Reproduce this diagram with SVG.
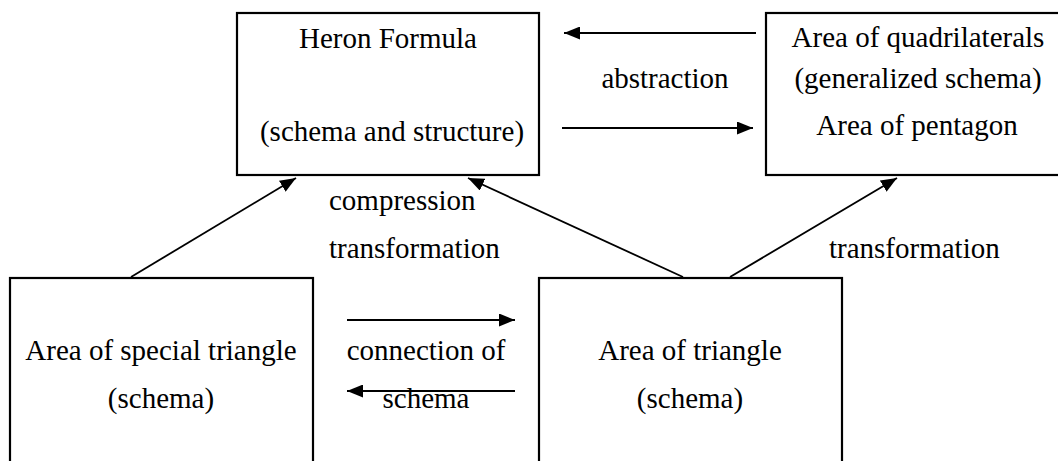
<svg xmlns="http://www.w3.org/2000/svg" width="1058" height="461" viewBox="0 0 1058 461">
<style>
.box{fill:#fff;stroke:#000;stroke-width:2.2}
.t{font-family:"Liberation Serif","Times New Roman",serif;font-size:29px;fill:#000}
.m{text-anchor:middle}
.c{stroke:#000;stroke-width:1.8;fill:none;marker-end:url(#ah)}
</style>
<defs>
<marker id="ah" markerUnits="userSpaceOnUse" markerWidth="17" markerHeight="13" refX="16" refY="6.5" orient="auto">
<path d="M0,0 L16,6.5 L0,13 z" fill="#000"/>
</marker>
</defs>
<rect width="1058" height="461" fill="#fff"/>
<g id="heron">
<rect class="box" x="237" y="13" width="302" height="162"/>
<text class="t m" x="388" y="48">Heron Formula</text>
<text class="t m" x="392" y="141">(schema and structure)</text>
</g>
<g id="quad">
<rect class="box" x="766" y="13" width="320" height="162"/>
<text class="t m" x="918" y="47">Area of quadrilaterals</text>
<text class="t m" x="918" y="88">(generalized schema)</text>
<text class="t m" x="917" y="135">Area of pentagon</text>
</g>
<g id="special">
<rect class="box" x="10" y="278" width="303" height="220"/>
<text class="t m" x="161" y="360">Area of special triangle</text>
<text class="t m" x="161" y="408">(schema)</text>
</g>
<g id="triangle">
<rect class="box" x="539" y="278" width="303" height="220"/>
<text class="t m" x="690" y="360">Area of triangle</text>
<text class="t m" x="690" y="408">(schema)</text>
</g>
<g id="connectors">
<line class="c" x1="756" y1="33" x2="564" y2="33"/>
<line class="c" x1="562" y1="128" x2="753" y2="128"/>
<line class="c" x1="131" y1="277" x2="296" y2="178"/>
<line class="c" x1="683" y1="277" x2="468" y2="178"/>
<line class="c" x1="730" y1="277" x2="897" y2="178"/>
<line class="c" x1="347" y1="320" x2="515" y2="320"/>
<line class="c" x1="515" y1="391" x2="347" y2="391"/>
</g>
<g id="labels">
<text class="t m" x="665" y="88">abstraction</text>
<text class="t" x="329" y="210">compression</text>
<text class="t" x="329" y="258">transformation</text>
<text class="t" x="829" y="258">transformation</text>
<text class="t m" x="426" y="360">connection of</text>
<text class="t m" x="426" y="408">schema</text>
</g>
</svg>
